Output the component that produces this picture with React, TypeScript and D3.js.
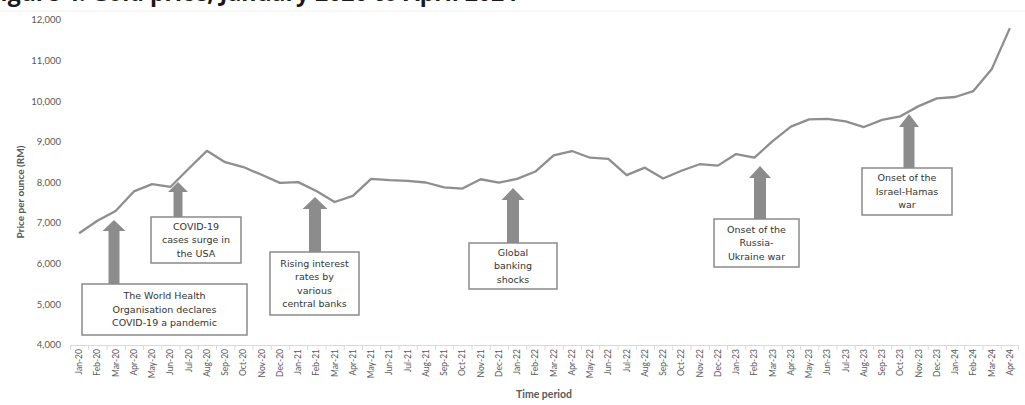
import React from "react";
import * as d3 from "d3";

const months: string[] = [
  "Jan-20","Feb-20","Mar-20","Apr-20","May-20","Jun-20","Jul-20","Aug-20","Sep-20","Oct-20","Nov-20","Dec-20",
  "Jan-21","Feb-21","Mar-21","Apr-21","May-21","Jun-21","Jul-21","Aug-21","Sep-21","Oct-21","Nov-21","Dec-21",
  "Jan-22","Feb-22","Mar-22","Apr-22","May-22","Jun-22","Jul-22","Aug-22","Sep-22","Oct-22","Nov-22","Dec-22",
  "Jan-23","Feb-23","Mar-23","Apr-23","May-23","Jun-23","Jul-23","Aug-23","Sep-23","Oct-23","Nov-23","Dec-23",
  "Jan-24","Feb-24","Mar-24","Apr-24",
];

const prices: number[] = [
  6750, 7060, 7300, 7780, 7960, 7890, 8340, 8780, 8500, 8380, 8190, 7990,
  8010, 7790, 7520, 7670, 8090, 8060, 8040, 8000, 7880, 7850, 8080, 7995,
  8090, 8270, 8670, 8775, 8610, 8580, 8180, 8365, 8100, 8290, 8450, 8415,
  8700, 8610, 9020, 9375, 9555, 9565, 9505, 9365, 9540, 9630, 9880, 10070,
  10105, 10250, 10785, 11800,
];

const yTicks: number[] = [4000, 5000, 6000, 7000, 8000, 9000, 10000, 11000, 12000];

const annotationTexts: string[][] = [
  ["The World Health", "Organisation declares", "COVID-19 a pandemic"],
  ["COVID-19", "cases surge in", "the USA"],
  ["Rising interest", "rates by", "various", "central banks"],
  ["Global", "banking", "shocks"],
  ["Onset of the", "Russia-", "Ukraine war"],
  ["Onset of the", "Israel-Hamas", "war"],
];

// layout of annotation callouts (pixels)
const annotationLayout = [
  { ax: 114, headTop: 220, shaftW: 11, headW: 23, headH: 11, bx: 82, by: 284, bw: 165, bh: 51 },
  { ax: 178, headTop: 182, shaftW: 9, headW: 20, headH: 10, bx: 151, by: 217, bw: 90, bh: 46 },
  { ax: 315, headTop: 197, shaftW: 12, headW: 25, headH: 12, bx: 270, by: 252, bw: 89, bh: 63 },
  { ax: 513, headTop: 188, shaftW: 12, headW: 23, headH: 12, bx: 469, by: 243, bw: 88, bh: 46 },
  { ax: 760, headTop: 166, shaftW: 12, headW: 22, headH: 12, bx: 714, by: 219, bw: 85, bh: 48 },
  { ax: 909, headTop: 114, shaftW: 11, headW: 20, headH: 13, bx: 862, by: 168, bw: 90, bh: 47 },
];

export default function App() {
  const W = 1025, H = 405;
  const x = d3.scaleBand<string>().domain(months).range([70, 1019]).paddingInner(0).paddingOuter(0);
  const y = d3.scaleLinear().domain([4000, 12000]).range([345, 20]);
  const cx = (m: string) => (x(m) as number) + x.bandwidth() / 2;

  const line = d3
    .line<number>()
    .x((_, i) => cx(months[i]))
    .y((d) => y(d));

  const tickFont = "'Liberation Sans Narrow', 'Arial Narrow', Lato, sans-serif";
  const labelFont = "Lato, 'Open Sans', sans-serif";
  const annFont = "'DejaVu Sans', Verdana, sans-serif";

  return (
    <svg
      width={W}
      height={H}
      style={{ position: "absolute", left: 0, top: 0, background: "#fff" }}
    >
      <rect x={0} y={0} width={W} height={H} fill="#fff" />
      {/* title, cropped at the top edge as in the source image */}
      <text
        x={-12}
        y={0.5}
        fontFamily="'Open Sans', sans-serif"
        fontWeight={700}
        fontSize={23}
        fill="#1a1a1a"
      >
        Figure 4: Gold price, January 2020 to April 2024
      </text>
      <line x1={0} x2={W} y1={11} y2={11} stroke="#efefef" strokeWidth={1} />

      {/* y ticks */}
      {yTicks.map((t) => (
        <text
          key={t}
          x={61}
          y={y(t)}
          dy="0.35em"
          textAnchor="end"
          fontFamily={labelFont}
          fontSize={9.5}
          fill="#595959"
        >
          {d3.format(",")(t)}
        </text>
      ))}
      <text
        transform={`translate(24,192) rotate(-90)`}
        textAnchor="middle"
        fontFamily={labelFont}
        fontWeight={700}
        fontSize={10}
        fill="#595959"
      >
        Price per ounce (RM)
      </text>

      {/* x axis */}
      <line x1={70} x2={1019} y1={345.5} y2={345.5} stroke="#d9d9d9" strokeWidth={1} />
      {months.map((m) => (
        <line
          key={"t" + m}
          x1={(x(m) as number) + 0.5}
          x2={(x(m) as number) + 0.5}
          y1={345.5}
          y2={350}
          stroke="#d9d9d9"
        />
      ))}
      <line x1={1018.5} x2={1018.5} y1={345.5} y2={350} stroke="#d9d9d9" />
      {months.map((m) => (
        <text
          key={m}
          transform={`translate(${cx(m) + 3},349) rotate(-90)`}
          textAnchor="end"
          fontFamily={tickFont}
          fontSize={8.5}
          fill="#595959"
        >
          {m}
        </text>
      ))}
      <text
        x={544}
        y={398}
        textAnchor="middle"
        fontFamily={labelFont}
        fontWeight={700}
        fontSize={10.5}
        fill="#595959"
      >
        Time period
      </text>

      {/* data line */}
      <path d={line(prices) || ""} fill="none" stroke="#8e8e8e" strokeWidth={2.3} strokeLinejoin="round" />

      {/* annotations */}
      {annotationLayout.map((a, i) => {
        const lines = annotationTexts[i];
        const lh = 13.5;
        const midY = a.by + a.bh / 2;
        const startY = midY - ((lines.length - 1) * lh) / 2;
        const arrow = [
          [a.ax, a.headTop],
          [a.ax + a.headW / 2, a.headTop + a.headH],
          [a.ax + a.shaftW / 2, a.headTop + a.headH],
          [a.ax + a.shaftW / 2, a.by],
          [a.ax - a.shaftW / 2, a.by],
          [a.ax - a.shaftW / 2, a.headTop + a.headH],
          [a.ax - a.headW / 2, a.headTop + a.headH],
        ];
        return (
          <g key={i}>
            <polygon points={arrow.map((p) => p.join(",")).join(" ")} fill="#8c8c8c" />
            <rect
              x={a.bx}
              y={a.by}
              width={a.bw}
              height={a.bh}
              fill="#fff"
              stroke="#8a8a8a"
              strokeWidth={1.5}
            />
            {lines.map((t, j) => (
              <text
                key={j}
                x={a.bx + a.bw / 2}
                y={startY + j * lh}
                dy="0.35em"
                textAnchor="middle"
                fontFamily={annFont}
                fontSize={9.5}
                fill="#333"
              >
                {t}
              </text>
            ))}
          </g>
        );
      })}
    </svg>
  );
}
